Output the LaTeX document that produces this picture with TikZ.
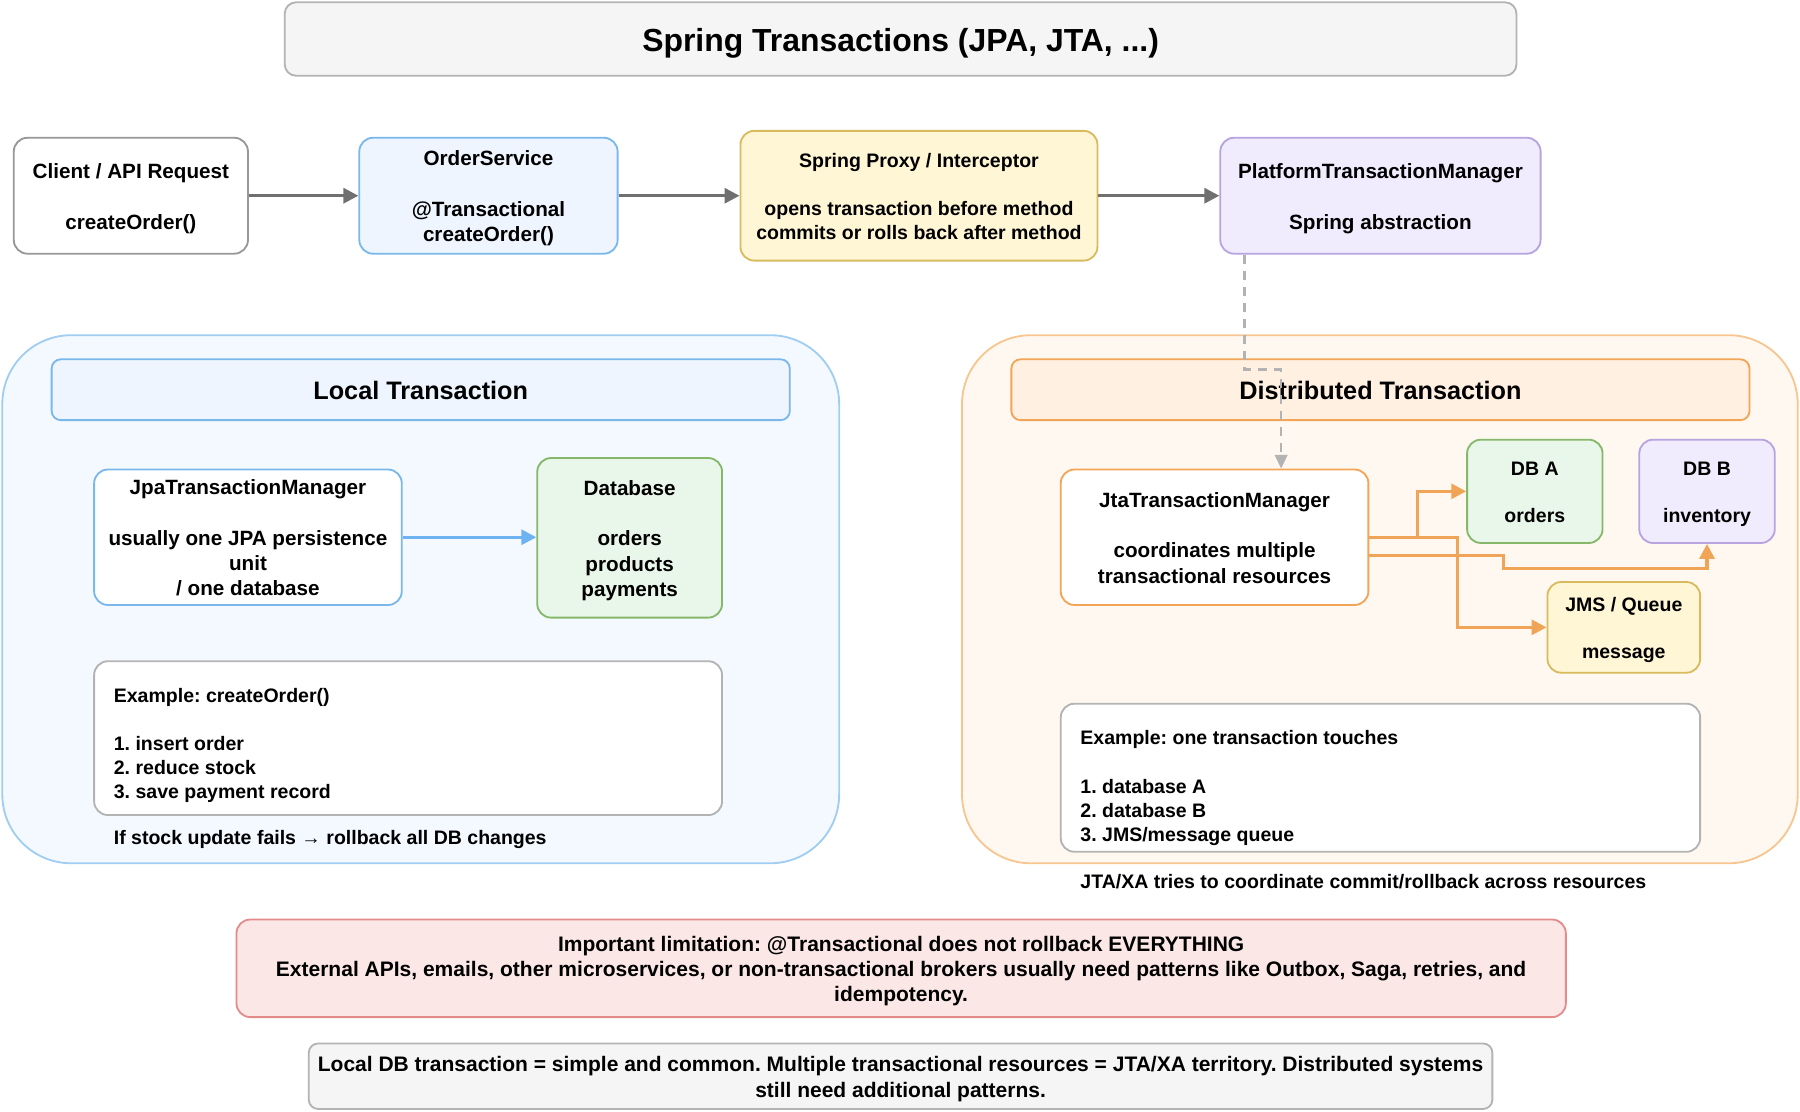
\documentclass[tikz,border=0pt]{standalone}
\usepackage{fontspec}
\setmainfont{Liberation Sans}
\usetikzlibrary{arrows.meta}
\definecolor{graystroke}{HTML}{B3B3B3}
\definecolor{grayfill}{HTML}{F5F5F5}
\definecolor{bluestroke}{HTML}{7AB8EC}
\definecolor{bluefill}{HTML}{EEF5FE}
\definecolor{lblfill}{HTML}{F4F9FF}
\definecolor{lblstroke}{HTML}{A0CDF2}
\definecolor{yelfill}{HTML}{FFF6D6}
\definecolor{yelstroke}{HTML}{D9BB5E}
\definecolor{purfill}{HTML}{F1ECFD}
\definecolor{purstroke}{HTML}{B7A3E0}
\definecolor{grnfill}{HTML}{E9F6EA}
\definecolor{grnstroke}{HTML}{86B86B}
\definecolor{orfill}{HTML}{FFF8F0}
\definecolor{orstroke}{HTML}{F7C690}
\definecolor{orhfill}{HTML}{FFF0E1}
\definecolor{orhstroke}{HTML}{F2A556}
\definecolor{orarrow}{HTML}{F0A458}
\definecolor{redfill}{HTML}{FCE7E7}
\definecolor{redstroke}{HTML}{E38B8B}
\definecolor{arrowgray}{HTML}{707070}
\definecolor{bluearrow}{HTML}{6DB3F2}
\newcommand{\stt}{\rule[-0.21em]{0pt}{1.2em}}
\begin{document}
\frenchspacing
\begin{tikzpicture}[x=1pt,y=-1pt,
  box/.style={draw, rounded corners=12pt, line width=1.6pt, align=center, inner sep=0pt,
    font=\fontsize{18}{22}\selectfont\bfseries\frenchspacing},
  sbox/.style={box, font=\fontsize{17}{21}\selectfont\bfseries\frenchspacing},
  dbox/.style={box, font=\fontsize{17}{20.5}\selectfont\bfseries\frenchspacing},
  hdr/.style={box, rounded corners=8pt, font=\fontsize{22}{26}\selectfont\bfseries},
  cont/.style={draw, rounded corners=60pt, line width=1.6pt, inner sep=0pt},
  txt/.style={inner sep=0pt, anchor=west, align=left, font=\fontsize{17}{21}\selectfont\bfseries\frenchspacing},
  garrow/.style={draw=arrowgray, line width=2.8pt, -{Triangle[length=13pt,width=13pt]}},
  barrow/.style={draw=bluearrow, line width=2.8pt, -{Triangle[length=13pt,width=13pt]}},
  oarrow/.style={draw=orarrow, line width=2.8pt, -{Triangle[length=13pt,width=13pt]}},
  darrow/.style={draw=graystroke, line width=2pt, dash pattern=on 8pt off 6pt, -{Triangle[length=12pt,width=11pt]}}
]
\useasboundingbox (0,0) rectangle (1568,968);

% title
\node[box, rounded corners=10pt, fill=grayfill, draw=graystroke, minimum width=1073, minimum height=64,
  font=\fontsize{27.8}{32}\selectfont\bfseries] (title) at (784.5,34) {\stt Spring Transactions (JPA, JTA, ...)\stt};

% top row
\node[box, fill=white, draw=graystroke!85!black, minimum width=204, minimum height=101] (client) at (114,170.5)
  {\stt Client / API Request\\[22pt]createOrder()\stt};
\node[box, fill=bluefill, draw=bluestroke, minimum width=225, minimum height=101] (os) at (425.5,170.5)
  {\stt OrderService\\[22pt]@Transactional\\createOrder()\stt};
\node[sbox, fill=yelfill, draw=yelstroke, minimum width=311, minimum height=113] (proxy) at (800.5,170.5)
  {\stt Spring Proxy / Interceptor\\[21pt]opens transaction before method\\commits or rolls back after method\stt};
\node[box, fill=purfill, draw=purstroke, minimum width=279, minimum height=101] (ptm) at (1202.5,170.5)
  {\stt PlatformTransactionManager\\[22pt]Spring abstraction\stt};

% local transaction
\node[cont, fill=lblfill, draw=lblstroke, minimum width=729, minimum height=460] (localc) at (366.5,522) {};
\node[hdr, fill=bluefill, draw=bluestroke, minimum width=643, minimum height=53] (localh) at (366.5,339.5) {\stt Local Transaction\stt};
\node[box, fill=white, draw=bluestroke, minimum width=268, minimum height=118] (jpa) at (216,468)
  {\stt JpaTransactionManager\\[22pt]usually one JPA persistence\\unit\\/ one database\stt};
\node[box, fill=grnfill, draw=grnstroke, minimum width=161, minimum height=139] (db) at (548.5,468.5)
  {\stt Database\\[22pt]orders\\products\\payments\stt};
\node[box, fill=white, draw=graystroke, minimum width=547, minimum height=134] (ex1) at (355.5,643) {};
\node[txt] (ex1t) at (99,649.5) {Example: createOrder()\\[21pt]1. insert order\\2. reduce stock\\3. save payment record};
\node[txt] (note1) at (99,731) {If stock update fails → rollback all DB changes};

% distributed transaction
\node[cont, fill=orfill, draw=orstroke, minimum width=728, minimum height=460] (distc) at (1202,522) {};
\node[hdr, fill=orhfill, draw=orhstroke, minimum width=643, minimum height=53] (disth) at (1202.5,339.5) {\stt Distributed Transaction\stt};
\node[box, fill=white, draw=orhstroke, minimum width=268, minimum height=118] (jta) at (1058,468)
  {\stt JtaTransactionManager\\[22pt]coordinates multiple\\transactional resources\stt};
\node[dbox, fill=grnfill, draw=grnstroke, minimum width=118, minimum height=90] (dba) at (1337,428) {\stt DB A\\[20.5pt]orders\stt};
\node[dbox, fill=purfill, draw=purstroke, minimum width=118, minimum height=90] (dbb) at (1487,428) {\stt DB B\\[20.5pt]inventory\stt};
\node[dbox, fill=yelfill, draw=yelstroke, minimum width=133, minimum height=79] (jms) at (1414.5,546.5) {\stt JMS / Queue\\[20.5pt]message\stt};
\node[box, fill=white, draw=graystroke, minimum width=557, minimum height=129] (ex2) at (1202.5,677.5) {};
\node[txt] (ex2t) at (941,686.5) {Example: one transaction touches\\[21pt]1. database A\\2. database B\\3. JMS/message queue};
\node[txt] (note2) at (941,768) {JTA/XA tries to coordinate commit/rollback across resources};

% bottom notes
\node[box, fill=redfill, draw=redstroke, minimum width=1158, minimum height=85,
  font=\fontsize{18.3}{22}\selectfont\bfseries\frenchspacing] (limit) at (785,843.5)
  {\stt Important limitation: @Transactional does not rollback EVERYTHING\\External APIs, emails, other microservices, or non-transactional brokers usually need patterns like Outbox, Saga, retries, and\\idempotency.\stt};
\node[box, rounded corners=8pt, fill=grayfill, draw=graystroke, minimum width=1031, minimum height=57,
  font=\fontsize{18.3}{22}\selectfont\bfseries\frenchspacing] (bottom) at (784.5,937.5)
  {\stt Local DB transaction = simple and common. Multiple transactional resources = JTA/XA territory. Distributed systems\\still need additional patterns.\stt};

% connectors
\draw[garrow] (client.east) -- (os.west);
\draw[garrow] (os.east) -- (proxy.west);
\draw[garrow] (proxy.east) -- (ptm.west);
\draw[barrow] (jpa.east) -- (db.west |- jpa.east);
\draw[oarrow] (jta.east) -- ++(42,0) |- (dba.west);
\draw[oarrow] (jta.east) -- ++(77,0) |- (jms.west);
\draw[oarrow] ([yshift=-16pt]jta.east) -- ++(117,0) -- ++(0,11) -| (dbb.south);
\draw[darrow] ([xshift=-118.5pt]ptm.south) -- ++(0,100) -| ([xshift=58pt]jta.north);
\end{tikzpicture}
\end{document}
